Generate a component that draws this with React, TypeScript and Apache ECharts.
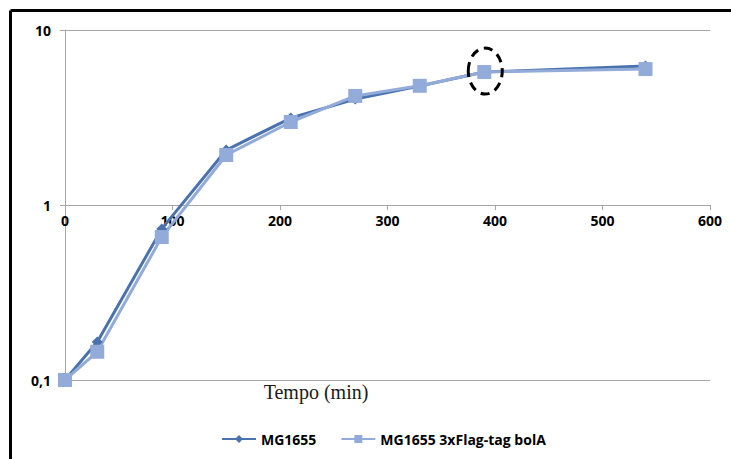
import React, { useEffect, useRef } from "react";
import * as echarts from "echarts";

const timesMin = [0, 30, 90, 150, 210, 270, 330, 390, 540];
const mg1655 = [0.1, 0.165, 0.73, 2.06, 3.14, 4.03, 4.79, 5.75, 6.23];
const mg1655Flag = [0.1, 0.145, 0.656, 1.93, 2.98, 4.2, 4.8, 5.75, 5.98];
const seriesNames = ["MG1655", "MG1655 3xFlag-tag bolA"];
const xAxisTitle = "Tempo (min)";
const highlightPoint = [390, 5.75];

export default function App() {
  const ref = useRef<HTMLDivElement>(null);
  useEffect(() => {
    if (!ref.current) return;
    const chart = echarts.init(ref.current, null, { renderer: "svg" });
    const gridColor = "#a6a6a6";
    const labelFont = {
      color: "#000",
      fontFamily: "Open Sans",
      fontWeight: "bold" as const,
      fontSize: 14,
    };
    chart.setOption({
      animation: false,
      backgroundColor: "#fff",
      grid: [
        { left: 65, right: 21, top: 30, bottom: 79 },
        { left: 65, right: 21, top: 30, height: 175 },
      ],
      xAxis: [
        { type: "value", gridIndex: 0, min: 0, max: 600, interval: 100, show: false },
        {
          type: "value",
          gridIndex: 1,
          min: 0,
          max: 600,
          interval: 100,
          axisLine: { show: true, lineStyle: { color: gridColor, width: 1 } },
          axisTick: { show: true, length: 5, lineStyle: { color: gridColor } },
          splitLine: { show: false },
          axisLabel: { ...labelFont, margin: 8 },
        },
      ],
      yAxis: [
        {
          type: "log",
          gridIndex: 0,
          min: 0.1,
          max: 10,
          logBase: 10,
          axisLine: { show: true, lineStyle: { color: gridColor, width: 1 } },
          axisTick: { show: true, length: 5, lineStyle: { color: gridColor } },
          splitLine: { show: true, lineStyle: { color: gridColor, width: 1 } },
          axisLabel: {
            ...labelFont,
            margin: 14,
            formatter: (v: number) => String(v).replace(".", ","),
          },
        },
        { type: "value", gridIndex: 1, show: false, min: 0, max: 1 },
      ],
      legend: {
        bottom: 8,
        left: 216,
        itemWidth: 34,
        itemHeight: 10,
        itemGap: 24,
        textStyle: { ...labelFont, fontSize: 14 },
        data: seriesNames,
      },
      series: [
        {
          name: seriesNames[0],
          type: "line",
          xAxisIndex: 0,
          yAxisIndex: 0,
          data: timesMin.map((t, i) => [t, mg1655[i]]),
          color: "#4a72ae",
          lineStyle: { width: 3, color: "#4a72ae" },
          symbol: "diamond",
          symbolSize: 11,
          itemStyle: { color: "#4a72ae" },
        },
        {
          name: seriesNames[1],
          type: "line",
          xAxisIndex: 0,
          yAxisIndex: 0,
          data: timesMin.map((t, i) => [t, mg1655Flag[i]]),
          color: "#93abd8",
          lineStyle: { width: 3, color: "#93abd8" },
          symbol: "rect",
          symbolSize: 14,
          itemStyle: { color: "#93abd8" },
        },
      ],
    });
    const p = chart.convertToPixel({ gridIndex: 0 }, highlightPoint) as number[];
    chart.setOption({
      graphic: [
        {
          type: "line",
          shape: { x1: 10.5, y1: 10.5, x2: 731, y2: 10.5 },
          style: { stroke: "#000", lineWidth: 3 },
        },
        {
          type: "line",
          shape: { x1: 10.5, y1: 10.5, x2: 10.5, y2: 459 },
          style: { stroke: "#000", lineWidth: 3 },
        },
        {
          type: "text",
          x: 316,
          y: 392,
          style: {
            text: xAxisTitle,
            fill: "#1a1a1a",
            font: "20px 'Liberation Serif'",
            textAlign: "center",
            textVerticalAlign: "middle",
          },
        },
        {
          type: "ellipse",
          shape: { cx: p[0] + 1, cy: p[1] - 1, rx: 17, ry: 23 },
          style: { fill: "none", stroke: "#000", lineWidth: 3, lineDash: [9, 6] },
          z: 10,
        },
      ],
    });
    return () => chart.dispose();
  }, []);
  return (
    <div
      ref={ref}
      style={{ position: "fixed", left: 0, top: 0, width: 731, height: 459 }}
    />
  );
}
